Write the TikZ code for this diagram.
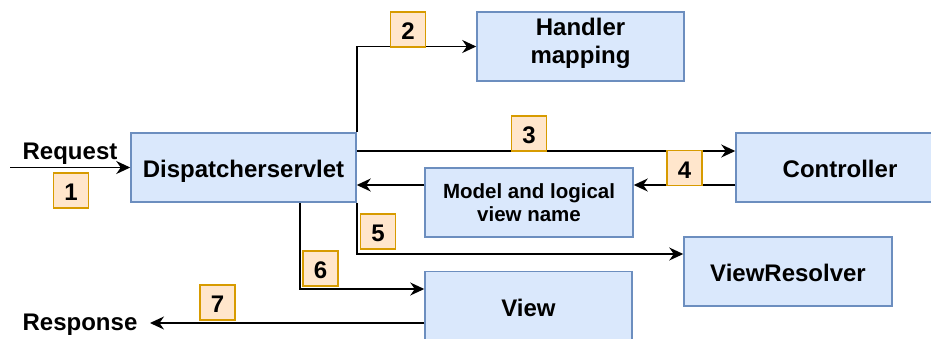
\documentclass[tikz,border=0pt]{standalone}
\usepackage{fontspec}
\setmainfont{Liberation Sans}
\usepackage{tikz}
\usetikzlibrary{arrows.meta}
\definecolor{boxblue}{HTML}{DAE8FC}
\definecolor{boxline}{HTML}{6C8EBF}
\definecolor{numfill}{HTML}{FFE6CC}
\definecolor{numline}{HTML}{D79B00}
\newcommand{\bigbf}{\fontsize{24}{28}\selectfont\bfseries}

\begin{document}
\begin{tikzpicture}[x=1pt,y=-1pt,line width=1.5pt,
    >={Stealth[length=14pt,width=13pt,inset=4.5pt]},
    box/.style={draw=boxline,fill=boxblue,minimum width=208pt,minimum height=69pt,
        align=center,inner sep=0pt,font=\bigbf},
    onebox/.style={box,text height=20.8pt,text depth=0pt},
    num/.style={draw=numline,fill=numfill,minimum size=35pt,inner sep=0pt,
        text height=20.4pt,text depth=0pt,font=\bigbf},
    lbl/.style={anchor=base,inner sep=0pt,font=\bigbf}]
    \useasboundingbox (0,0) rectangle (931,338);
    \node[onebox,minimum width=225pt] (ds) at (243.5,167.5) {Dispatcherservlet};
    \node[box,minimum width=207pt,text depth=12pt] (hm) at (580.5,46.5) {Handler\\mapping};
    \node[onebox] (ctrl) at (840,167.5) {Controller};
    \node[box,font=\fontsize{20.5}{23}\selectfont\bfseries] (model) at (529,202.5) {Model and logical\\view name};
    \node[onebox] (vr) at (788,271.5) {ViewResolver};
    \node[onebox,minimum width=207pt] (view) at (528.5,306) {View};
    \node[lbl] (req) at (70,159.5) {Request};
    \node[lbl] (resp) at (80,330.5) {Response};
    \coordinate (in) at (10,167.5); % debut requete
    \coordinate (out) at (150,323); % fin reponse
    \coordinate (back) at ([yshift=-17.5pt]ctrl.west); % retour controller
    %%%%%%%%%%%%%%%%%%%%%%%%%%%%%%%%%%
    \draw[->] (in) -- (ds.west); % Fleche 1
    \draw[->] (ds.north east) |- (hm.west); % Fleche 2
    \draw[->] ([yshift=16.5pt]ds.east) -- ([yshift=16.5pt]ctrl.west); % Fleche 3
    \draw[->] (back) -- (back -| model.east); % Fleche 4
    \draw[->] (back -| model.west) -- (back -| ds.east); % retour
    \draw[->] (ds.south east) |- ([yshift=17.5pt]vr.west); % Fleche 5
    \draw[->] ([xshift=56.5pt]ds.south) |- ([yshift=17pt]view.west); % Fleche 6
    \draw[->] ([yshift=-17pt]view.west) -- (out); % Fleche 7
    %%%%%%%%%%%%%%%%%%%%%%%%%%%%%%%%%%%
    \node[num] (n1) at (71,190.5) {1};
    \node[num] (n2) at (408,29.5) {2};
    \node[num] (n3) at (529,133.5) {3};
    \node[num] (n4) at (684.5,168) {4};
    \node[num] (n5) at (378,231.5) {5};
    \node[num] (n6) at (320.5,268.5) {6};
    \node[num] (n7) at (217.5,302.5) {7};
\end{tikzpicture}
\end{document}
